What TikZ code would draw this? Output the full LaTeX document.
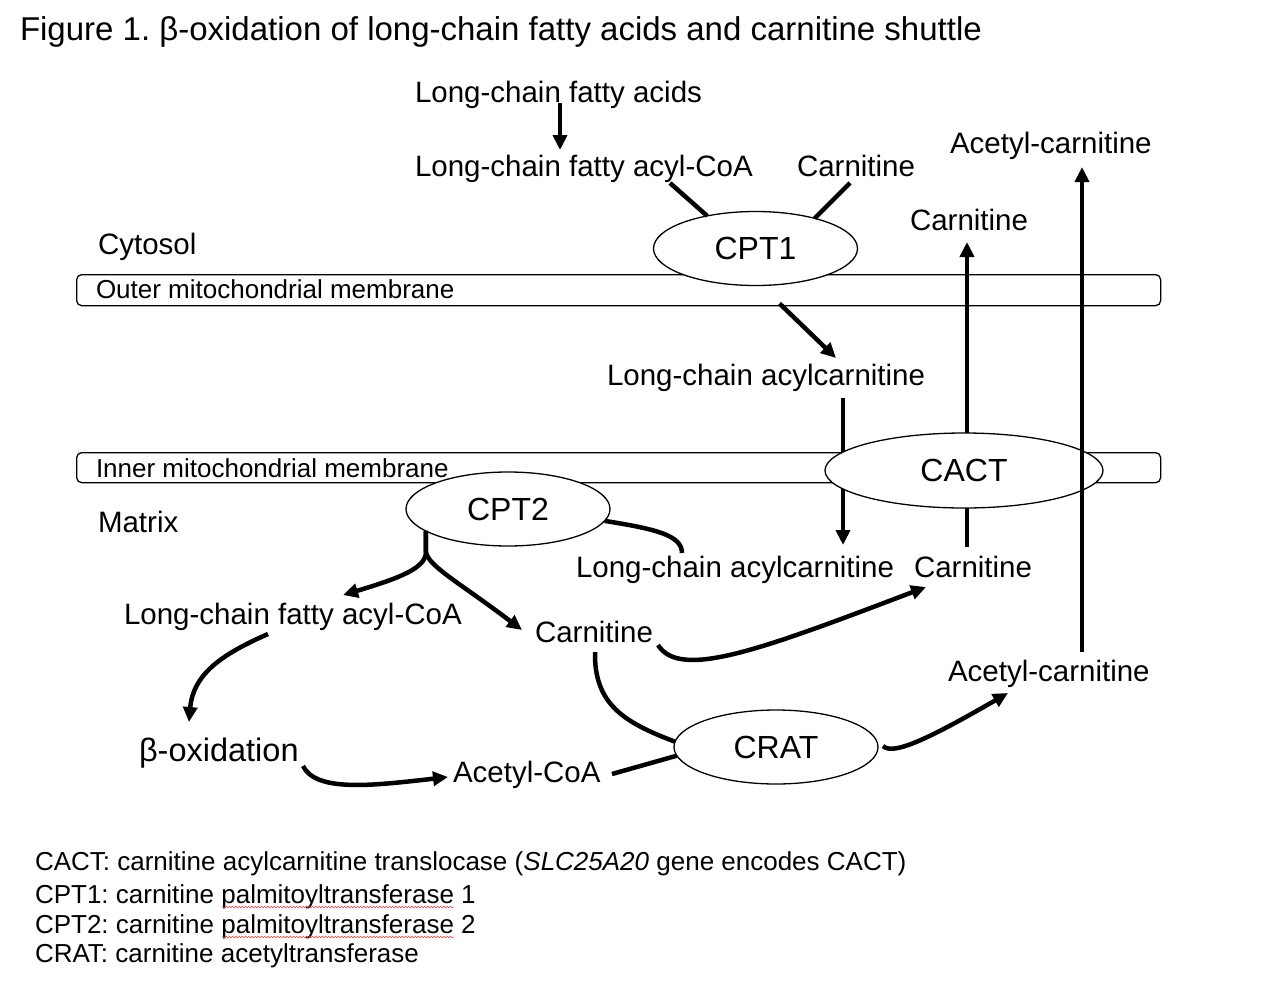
\documentclass[tikz,border=0pt]{standalone}
\usepackage{fontspec}
\setmainfont{Liberation Sans}
\usetikzlibrary{arrows.meta,shapes.geometric,calc,decorations.pathmorphing}
\frenchspacing
\tikzset{
 lbl/.style={anchor=base west, inner sep=0pt, outer sep=0pt, font=\fontsize{29.5}{35}\selectfont},
 memlbl/.style={lbl, font=\fontsize{26}{31}\selectfont},
 leg/.style={lbl, font=\fontsize{26}{31}\selectfont},
 enz/.style={ellipse, draw, line width=1.3pt, fill=white, inner sep=0pt, outer sep=0pt, minimum width=204pt, minimum height=74pt, font=\fontsize{32}{38}\selectfont},
 mem/.style={draw, line width=1.3pt, rounded corners=5pt, inner sep=0pt, anchor=north west},
 conn/.style={line width=4.5pt},
 arr/.style={conn, -{Triangle[length=15pt,width=14pt]}},
 wavy/.style={red!80!white, line width=0.5pt, decorate, decoration={snake, amplitude=0.8pt, segment length=3.2pt}}
}
\begin{document}
\begin{tikzpicture}[x=1pt,y=-1pt]
\path[use as bounding box, fill=white] (0,0) rectangle (1280,991);

% title
\node[lbl, font=\fontsize{33}{40}\selectfont] (title) at (20,40) {Figure 1. β-oxidation of long-chain fatty acids and carnitine shuttle};

% membranes
\node[mem, minimum width=1084pt, minimum height=31pt] (outer) at (76,274) {};
\node[mem, minimum width=1084pt, minimum height=30pt] (inner) at (76,452) {};
\node[memlbl] (outerlbl) at (96,298) {Outer mitochondrial membrane};

% text labels
\node[lbl] (lcfa) at (415,102) {Long-chain fatty acids};
\node[lbl] (lcfacoa1) at (415,176) {Long-chain fatty acyl-CoA};
\node[lbl] (carn1) at (797,176) {Carnitine};
\node[lbl] (acetcarn1) at (950,153) {Acetyl-carnitine};
\node[lbl] (carn2) at (910,230) {Carnitine};
\node[lbl] (cytosol) at (98,254) {Cytosol};
\node[lbl] (lcac1) at (607,385) {Long-chain acylcarnitine};
\node[lbl] (matrix) at (98,532) {Matrix};
\node[lbl] (lcac2) at (576,577) {Long-chain acylcarnitine};
\node[lbl] (carn3) at (914,577) {Carnitine};
\node[lbl] (lcfacoa2) at (124,624) {Long-chain fatty acyl-CoA};
\node[lbl] (carn4) at (535,642) {Carnitine};
\node[lbl] (acetcarn2) at (948,681) {Acetyl-carnitine};
\node[lbl, font=\fontsize{32.5}{38}\selectfont] (betaox) at (139,761) {β-oxidation};
\node[lbl] (acetylcoa) at (453,782) {Acetyl-CoA};

% lines passing behind CACT
\draw[arr] ($(lcac1.base west)+(236,13)$) -- ($(lcac2.base west)+(267,-32)$);
\draw[arr] ($(carn3.base west)+(53,-30)$) -- ($(carn2.base west)+(57,12)$);

% enzymes
\node[enz] (CPT1) at (755.5,248.5) {CPT1};
\node[enz] (CPT2) at (508,509) {CPT2};
\node[enz, minimum width=278pt, minimum height=75pt] (CACT) at (964,470.5) {CACT};
\node[enz] (CRAT) at (776,747) {CRAT};

\node[memlbl] (innerlbl) at (96,477) {Inner mitochondrial membrane};

% connectors
\draw[arr] ($(acetcarn2.base west)+(134,-29)$) -- ($(acetcarn1.base west)+(132,14)$);
\draw[arr] ($(lcfa.base west)+(145,1)$) -- ($(lcfacoa1.base west)+(145,-26)$);
\draw[conn] ($(lcfacoa1.base west)+(255,7)$) -- (CPT1.146);
\draw[conn] ($(carn1.base west)+(53,7)$) -- (CPT1.27);
\draw[arr] ($(CPT1.south)+(24,18)$) -- ($(lcac1.base west)+(229,-27)$);
\draw[conn] (CPT2.-7) .. controls +(50,8) and +(0,-18) .. ($(lcac2.base west)+(106,-24)$);
\coordinate (fork) at ($(CPT2.195)+(0,21)$);
\draw[arr] (CPT2.195) -- (fork) .. controls +(0,16) and +(57,-17) .. ($(lcfacoa2.base west)+(219,-29)$);
\draw[arr] (CPT2.195) -- (fork) .. controls +(2,14) and +(-62,-47) .. ($(carn4.base west)+(-13,-12)$);
\draw[arr] ($(lcfacoa2.base west)+(144,10)$) .. controls +(-48,21) and +(4,-47) .. ($(betaox.base west)+(50,-39)$);
\draw[arr] ($(betaox.base west)+(164,5)$) .. controls +(13,26) and +(-78,9) .. ($(acetylcoa.base west)+(-5,-5)$);
\draw[conn] ($(acetylcoa.base west)+(159,-8)$) -- (CRAT.185);
\draw[conn] ($(carn4.base west)+(60,10)$) .. controls +(-1,53) and +(-50,-19) .. (CRAT.177);
\draw[arr] ($(carn4.base west)+(123,3)$) .. controls +(22,35) and +(-166,63) .. ($(carn3.base west)+(12,10)$);
\draw[arr] ($(CRAT.east)+(5,-1)$) .. controls +(10,10) and +(-78,45) .. ($(acetcarn2.base west)+(60,12)$);

% legend
\node[leg] (leg1) at (35,870) {CACT: carnitine acylcarnitine translocase (\textit{SLC25A20} gene encodes CACT)};
\node[leg] (leg2) at (35,903) {CPT1: carnitine palmitoyltransferase 1};
\node[leg] (leg3) at (35,933) {CPT2: carnitine palmitoyltransferase 2};
\node[leg] (leg4) at (35,962) {CRAT: carnitine acetyltransferase};
\draw[wavy] ($(leg2.base west)+(187,4)$) -- ($(leg2.base west)+(419,4)$);
\draw[wavy] ($(leg3.base west)+(187,4)$) -- ($(leg3.base west)+(419,4)$);
\end{tikzpicture}
\end{document}
